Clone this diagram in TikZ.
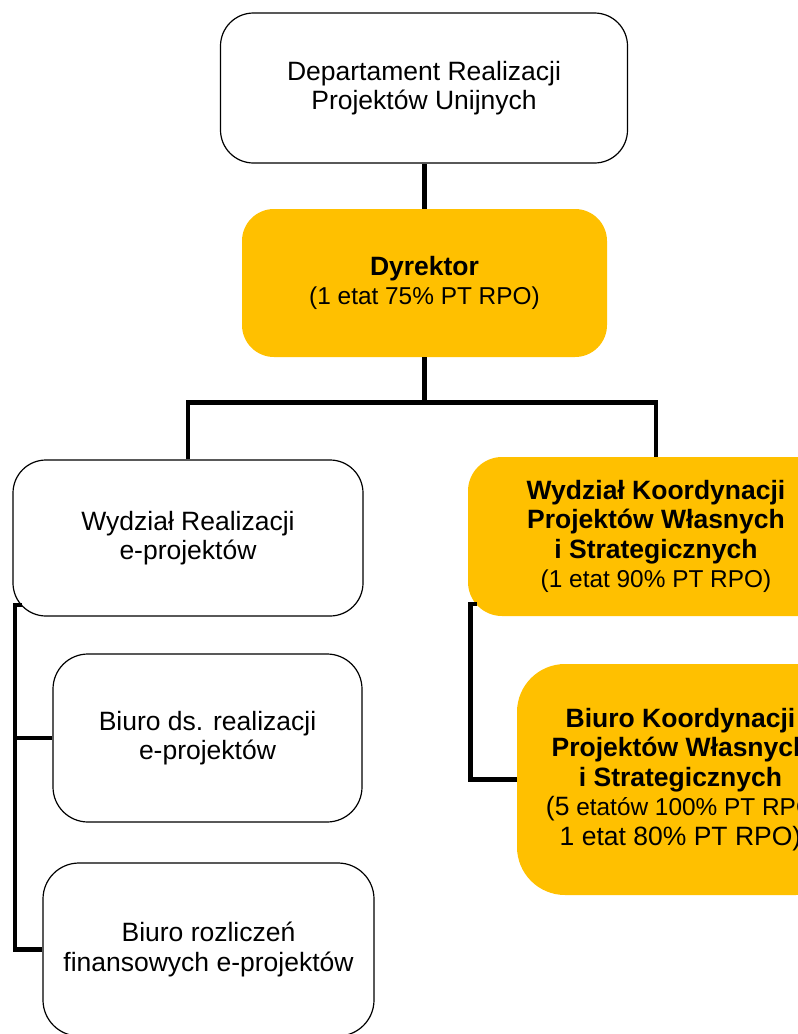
\documentclass[tikz,border=0pt]{standalone}
\usepackage{fontspec}
\setmainfont{Liberation Sans}
\definecolor{gold}{HTML}{FFC000}
\newcommand{\bigf}{\fontsize{26.5}{29.5}\selectfont}
\newcommand{\smallf}{\fontsize{24.4}{29.5}\selectfont}
\begin{document}
\begin{tikzpicture}[x=1pt,y=-1pt,
  wbox/.style={draw=black, line width=1.2pt, fill=white, rounded corners=#1,
    inner sep=0pt, align=center, font=\bigf},
  ybox/.style={fill=gold, rounded corners=#1, inner sep=0pt, align=center, font=\bigf},
  conn/.style={line width=4.8pt, draw=black}]
\useasboundingbox (0,0) rectangle (798,1034);
\clip (0,0) rectangle (798,1034);

% nodes
\node[wbox=33pt, minimum width=407pt, minimum height=150pt] (dep) at (424,88)
  {Departament Realizacji\\Projektów Unijnych};
\node[ybox=32pt, minimum width=365pt, minimum height=148pt] (dyr) at (424.5,283)
  {\textbf{Dyrektor}\\\smallf(1 etat 75\% PT RPO)};
\node[wbox=33pt, minimum width=350pt, minimum height=156pt] (wl) at (188,538)
  {Wydział Realizacji\\e-projektów};
\node[ybox=34pt, minimum width=376pt, minimum height=159pt] (wk) at (656,536.5)
  {\textbf{Wydział Koordynacji}\\\textbf{Projektów Własnych}\\\textbf{i Strategicznych}\\\smallf(1 etat 90\% PT RPO)};
\node[wbox=35pt, minimum width=309pt, minimum height=168pt] (brd) at (207.5,738)
  {Biuro ds. realizacji\\e-projektów};
\node[wbox=36pt, minimum width=331pt, minimum height=173pt] (brr) at (208.5,949.5)
  {Biuro rozliczeń\\finansowych e-projektów};
\node[ybox=48pt, minimum width=327pt, minimum height=231pt] (bko) at (680.5,779.5)
  {\textbf{Biuro Koordynacji}\\\textbf{Projektów Własnych}\\\textbf{i Strategicznych}\\(5\smallf{} etatów 100\% PT RPO\\\bigf 1 etat 80\% PT RPO)};

% connector helper points
\coordinate (bus) at (424,402.5);
\coordinate (lt) at (15,605);
\coordinate (ls) at (22,605);
\coordinate (rt) at (470.5,604);
\coordinate (rs) at (477,604);

% connectors
\draw[conn] (dyr.north) -- (dyr.north |- dep.south);
\draw[conn] (dyr.south) -- (dyr.south |- bus);
\draw[conn] (wl.north) |- (wk.north |- bus) -- (wk.north);
\draw[conn] (ls) -- (lt) |- (brr.west);
\draw[conn] (lt |- brd.west) -- (brd.west);
\draw[conn] (rs) -- (rt) |- (bko.west);
\end{tikzpicture}
\end{document}
